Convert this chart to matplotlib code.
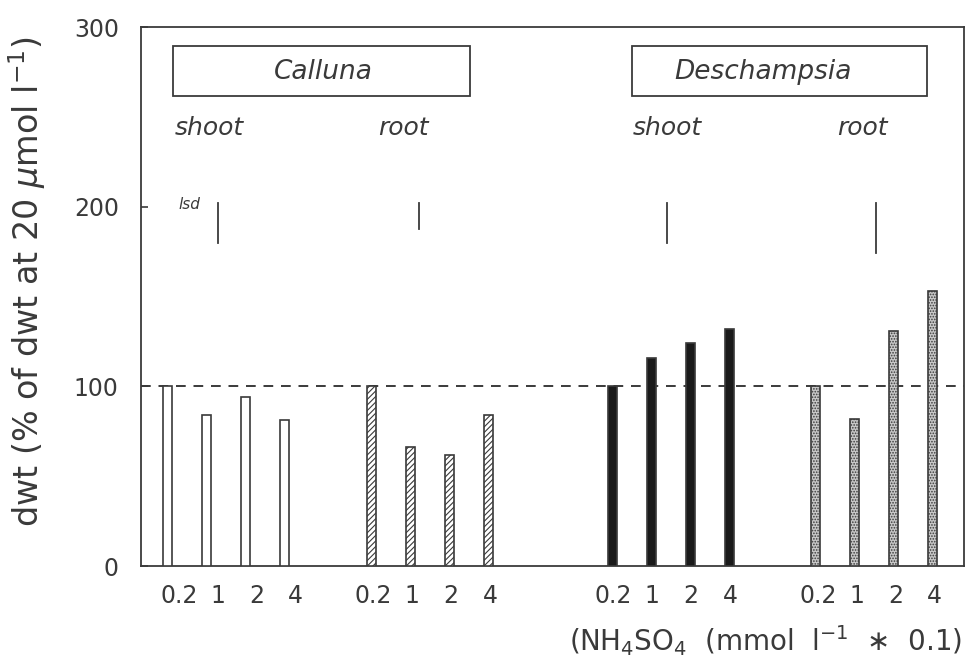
import numpy as np
import matplotlib
matplotlib.use("Agg")
import matplotlib.pyplot as plt
from matplotlib.patches import Rectangle

# data
nh4_levels = ["0.2", "1", "2", "4"]
calluna_shoot = [100, 84, 94, 81]
calluna_root = [100, 66, 62, 84]
desch_shoot = [100, 116, 124, 132]
desch_root = [100, 82, 131, 153]
lsd_top = [202, 202, 202, 202]
lsd_len = [22, 14.5, 22, 28]

# layout (x in units of bar spacing)
group_start = [0.67, 5.9, 12.1, 17.3]
label_shift = [0.3, 0.05, 0.0, 0.05]
lsd_x = [1.97, 7.13, 13.49, 18.85]
bar_w = 0.23
ink = "#3a3a3a"

plt.rcParams["hatch.linewidth"] = 0.8
plt.rcParams["hatch.color"] = ink

fig = plt.figure(figsize=(9.69, 6.6), dpi=100)
ax = fig.add_axes([0.1455, 0.1424, 0.8493, 0.8166])

series = [calluna_shoot, calluna_root, desch_shoot, desch_root]
styles = [dict(facecolor="white", hatch=None),
          dict(facecolor="white", hatch="//////"),
          dict(facecolor="#1a1a1a", hatch=None),
          dict(facecolor="#c8c8c8", hatch="......")]

ticks, ticklabels = [], []
for g, vals in enumerate(series):
    xs = group_start[g] + np.arange(len(vals))
    ax.bar(xs, vals, width=bar_w, edgecolor=ink, linewidth=1.2, zorder=3, **styles[g])
    ticks += list(xs + label_shift[g])
    ticklabels += nh4_levels

# reference line at 100 %
ax.axhline(100, color=ink, linestyle=(0, (5, 4)), linewidth=1.4, zorder=2)

# lsd bars
for x, top, ln in zip(lsd_x, lsd_top, lsd_len):
    ax.plot([x, x], [top, top - ln], color=ink, linewidth=1.3)
ax.text(1.23, 201, "lsd", fontsize=11, style="italic", color=ink, ha="center", va="center")

# species boxes
ax.add_patch(Rectangle((0.82, 261.5), 7.62, 28, fill=False, edgecolor=ink, linewidth=1.3))
ax.add_patch(Rectangle((12.59, 261.5), 7.56, 28, fill=False, edgecolor=ink, linewidth=1.3))
ax.text(4.67, 275, "Calluna", fontsize=19, style="italic", color=ink, ha="center", va="center")
ax.text(15.95, 275, "Deschampsia", fontsize=19, style="italic", color=ink, ha="center", va="center")
for x, s in zip([1.74, 6.74, 13.49, 18.5], ["shoot", "root", "shoot", "root"]):
    ax.text(x, 244, s, fontsize=18, style="italic", color=ink, ha="center", va="center")

ax.set_xlim(0, 21.1)
ax.set_ylim(0, 300)
ax.set_yticks([0, 100, 200, 300])
ax.set_xticks(ticks)
ax.set_xticklabels(ticklabels)
ax.tick_params(axis="y", direction="in", length=5, width=1.2, colors=ink, labelsize=17, pad=16)
ax.tick_params(axis="x", length=0, labelsize=17, colors=ink, pad=13)
for sp in ax.spines.values():
    sp.set_color(ink)
    sp.set_linewidth(1.3)

fig.text(0.028, 0.573, r"dwt (% of dwt at 20 $\mu$mol l$^{-1}$)", rotation=90,
         fontsize=24, color=ink, ha="center", va="center")
fig.text(0.993, 0.03, r"(NH$_4$SO$_4$  (mmol  l$^{-1}$  $\ast$  0.1)",
         fontsize=20, color=ink, ha="right", va="center")

fig.savefig("out.png", dpi=100)
